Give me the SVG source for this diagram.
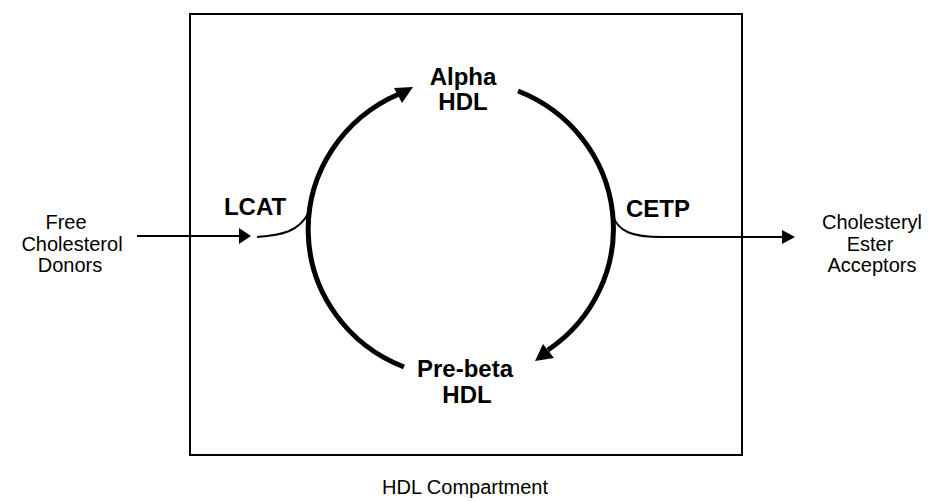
<svg xmlns="http://www.w3.org/2000/svg" width="932" height="501" viewBox="0 0 932 501">
<style>
  .bold { font-family: "Liberation Sans", Arial, sans-serif; font-weight: bold; font-size: 24px; fill: #000; text-anchor: middle; }
  .reg { font-family: "Liberation Sans", Arial, sans-serif; font-size: 20px; fill: #000; text-anchor: middle; }
  .thick { fill: none; stroke: #000; stroke-width: 5; }
  .thin { fill: none; stroke: #000; stroke-width: 2; }
  .head { fill: #000; stroke: none; }
</style>
<rect width="932" height="501" fill="#fff"/>
<g id="compartment">
  <rect x="190" y="14" width="552" height="441" fill="none" stroke="#000" stroke-width="2"/>
  <text class="reg" x="465" y="494">HDL Compartment</text>
</g>
<g id="alpha-hdl">
  <text class="bold" x="463" y="85">Alpha</text>
  <text class="bold" x="463" y="110">HDL</text>
</g>
<g id="prebeta-hdl">
  <text class="bold" x="465" y="377">Pre-beta</text>
  <text class="bold" x="467" y="403">HDL</text>
</g>
<g id="lcat">
  <text class="bold" x="255" y="215">LCAT</text>
</g>
<g id="cetp">
  <text class="bold" x="658" y="217">CETP</text>
</g>
<g id="donors">
  <text class="reg" x="66" y="229">Free</text>
  <text class="reg" x="72" y="251">Cholesterol</text>
  <text class="reg" x="70" y="272">Donors</text>
</g>
<g id="acceptors">
  <text class="reg" x="872" y="229">Cholesteryl</text>
  <text class="reg" x="870" y="251">Ester</text>
  <text class="reg" x="872" y="272">Acceptors</text>
</g>
<g id="connectors">
  <path class="thick" d="M 404 367 A 152 148 0 0 1 399 94"/>
  <polygon class="head" points="413,87 402,103 394,88"/>
  <path class="thick" d="M 518 91 A 152 148 0 0 1 548 350"/>
  <polygon class="head" points="535,361 543,344 554,358"/>
  <line class="thin" x1="137" y1="236" x2="240" y2="236"/>
  <polygon class="head" points="251,236 239,228 239,244"/>
  <path class="thin" d="M 257 237 C 282 235, 299 232, 309 212"/>
  <path class="thin" d="M 612 214 C 618 232, 632 237, 662 237 L 782 237"/>
  <polygon class="head" points="795,237 782,230 782,244"/>
</g>
</svg>
